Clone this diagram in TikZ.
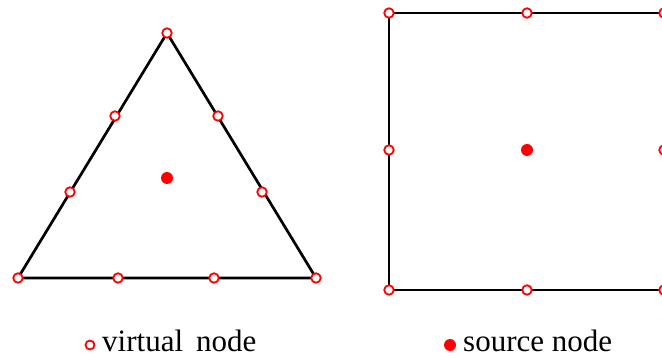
\documentclass[tikz,border=0pt]{standalone}
\usepackage{fontspec}
\setmainfont{Liberation Serif}
\begin{document}
\begin{tikzpicture}[x=1pt,y=-1pt,
  virt/.style={circle,draw=red,fill=white,line width=1.8pt,inner sep=0pt,minimum size=9.5pt},
  src/.style={circle,fill=red,inner sep=0pt,minimum size=12pt},
  edge/.style={line width=2.7pt,black},
  legend/.style={anchor=base west,inner sep=0pt,font=\fontsize{31}{37}\selectfont}]
\useasboundingbox (0,0) rectangle (662,358);
\clip (0,0) rectangle (662,358);
% triangle
\coordinate (tA) at (167,33);
\coordinate (tB) at (18,278);
\coordinate (tC) at (316,278);
\draw[edge,line join=miter] (tA) -- (tB) -- (tC) -- cycle;
\node[virt] (ta) at (tA) {};
\node[virt] (tb) at (tB) {};
\node[virt] (tc) at (tC) {};
\node[virt] (tab1) at (115,116) {};
\node[virt] (tab2) at (70,192) {};
\node[virt] (tac1) at (218,116) {};
\node[virt] (tac2) at (262,192) {};
\node[virt] (tbc1) at (118,278) {};
\node[virt] (tbc2) at (214,278) {};
\node[src] (ts) at (167,178) {};
% square
\coordinate (sA) at (389,13);
\coordinate (sB) at (664,13);
\coordinate (sC) at (664,290);
\coordinate (sD) at (389,290);
\draw[edge] (sA) -- (sB) -- (sC) -- (sD) -- cycle;
\node[virt] (sa) at (sA) {};
\node[virt] (sb) at (sB) {};
\node[virt] (sc) at (sC) {};
\node[virt] (sd) at (sD) {};
\node[virt] (sab) at (527,13) {};
\node[virt] (sbc) at (664,150) {};
\node[virt] (scd) at (527,290) {};
\node[virt] (sda) at (389,150) {};
\node[src] (ss) at (527,150) {};
% legend
\node[virt,minimum size=9pt] (lv) at (90,345) {};
\node[legend] (lvt) at (102,352) {virtual\, node};
\node[src] (ls) at (450,345) {};
\node[legend] (lst) at (463,352) {source node};
\end{tikzpicture}
\end{document}
